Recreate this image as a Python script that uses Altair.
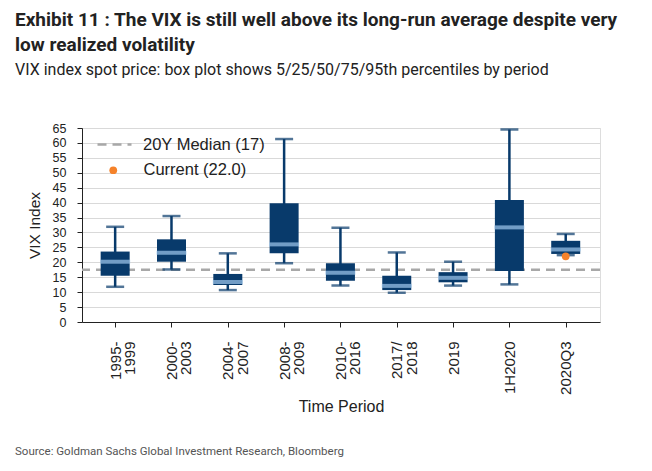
import altair as alt
import pandas as pd

periods = ["1995-\n1999", "2000-\n2003", "2004-\n2007", "2008-\n2009", "2010-\n2016",
           "2017/\n2018", "2019", "1H2020", "2020Q3"]
p5  = [11.8, 17.6, 10.7, 19.7, 12.2,  9.8, 12.2, 12.6, 22.4]
p25 = [15.5, 20.2, 12.4, 23.0, 13.8, 10.7, 13.3, 17.1, 22.8]
p50 = [20.2, 23.2, 13.4, 26.0, 16.5, 12.1, 14.8, 31.7, 24.3]
p75 = [23.6, 27.7, 16.1, 39.8, 19.7, 15.5, 16.7, 40.9, 27.2]
p95 = [31.9, 35.5, 23.0, 61.3, 31.6, 23.3, 20.2, 64.5, 29.5]
median_20y = 17.5
median_label = "20Y Median (17)"
current_val = 22.0
current_label = "Current (22.0)"
source = "Source: Goldman Sachs Global Investment Research, Bloomberg"
title_lines = ["Exhibit 11 : The VIX is still well above its long-run average despite very",
               "low realized volatility"]
subtitle = "VIX index spot price: box plot shows 5/25/50/75/95th percentiles by period"
y_ticks = list(range(0, 66, 5))

NAVY = "#083a6b"
LIGHT = "#a0c8ec"
ORANGE = "#f5822a"
GRAY = "#a8a8a8"
AX_FONT = "Liberation Sans"
COND = "Roboto"

idx = list(range(len(periods)))
df = pd.DataFrame({"idx": idx, "period": periods, "p5": p5, "p25": p25,
                   "p50": p50, "p75": p75, "p95": p95})

arr = "[" + ",".join("'" + p.replace("\n", "|") + "'" for p in periods) + "]"
label_expr = f"split({arr}[datum.value], '|')"

W, H = 518, 194

xscale = alt.Scale(domain=[-0.5, 8.52], nice=False, zero=False)
xaxis = alt.Axis(values=idx, labelExpr=label_expr, labelAngle=-90,
                 labelFontSize=15, labelLineHeight=14.5, labelPadding=14,
                 tickSize=5, grid=False, title="Time Period", titleFontSize=16,
                 titleX=259, titleY=84, titleBaseline="middle")
yscale = alt.Scale(domain=[0, 65], nice=False)
yaxis = alt.Axis(values=y_ticks, labelFontSize=12.5, labelPadding=11, tickSize=5,
                 grid=True, gridColor="#d9d9d9", title="VIX Index",
                 titleFontSize=15.5, titleFontWeight="normal", titlePadding=10)


def X(f):
    return alt.X(f, scale=xscale, axis=xaxis)


def Y(f):
    return alt.Y(f, scale=yscale, axis=yaxis)


base = alt.Chart(df)

whisk = base.mark_rule(color=NAVY, strokeWidth=2.5).encode(x=X("idx:Q"), y=Y("p5:Q"), y2="p95:Q")
cap_lo = base.mark_tick(color=NAVY, orient="horizontal", size=18, thickness=2.5).encode(
    x=X("idx:Q"), y=Y("p5:Q"))
cap_hi = base.mark_tick(color=NAVY, orient="horizontal", size=18, thickness=2.5).encode(
    x=X("idx:Q"), y=Y("p95:Q"))
box = base.mark_bar(color=NAVY, size=29).encode(x=X("idx:Q"), y=Y("p25:Q"), y2="p75:Q")
med = base.mark_tick(color=LIGHT, orient="horizontal", size=30, thickness=4).encode(
    x=X("idx:Q"), y=Y("p50:Q"))

med_df = pd.DataFrame({"v": [median_20y], "label": [median_label]})
med_rule = alt.Chart(med_df).mark_rule(color=GRAY, strokeWidth=2.3).encode(
    y=Y("v:Q"),
    strokeDash=alt.StrokeDash("label:N", scale=alt.Scale(range=[[9, 6]]),
                              legend=alt.Legend(title=None, orient="none", legendX=14, legendY=-2,
                                                symbolType="stroke", symbolSize=1156,
                                                symbolStrokeWidth=2.3, symbolStrokeColor=GRAY,
                                                labelFontSize=16.5, labelFont=AX_FONT,
                                                labelColor="#222", labelOffset=10)))

cur_df = pd.DataFrame({"idx": [8], "v": [current_val], "label": [current_label]})
cur = alt.Chart(cur_df).mark_circle(opacity=1, size=60).encode(
    x=X("idx:Q"), y=Y("v:Q"),
    color=alt.Color("label:N", scale=alt.Scale(range=[ORANGE]),
                    legend=alt.Legend(title=None, orient="none", legendX=23, legendY=34,
                                      symbolType="circle", symbolSize=60, symbolOpacity=1,
                                      labelFontSize=16.5, labelFont=AX_FONT,
                                      labelColor="#222", labelOffset=22)))

src = alt.Chart(pd.DataFrame({"t": [source]})).mark_text(
    align="left", baseline="middle", fontSize=11.5, font=COND, color="#555").encode(
    text="t:N", x=alt.value(-67), y=alt.value(H + 130))

chart = alt.layer(med_rule, whisk, cap_lo, cap_hi, box, med, cur, src).properties(
    width=W, height=H,
    padding={"left": 82, "top": 128, "right": 52, "bottom": 149},
    autosize=alt.AutoSizeParams(type="none"),
    title=alt.TitleParams(text=title_lines, subtitle=subtitle, anchor="start", frame="group",
                          dx=-67, offset=44, font=COND, fontSize=19, fontWeight="bold",
                          lineHeight=25, color="#222", subtitleFont=COND, subtitleFontSize=16,
                          subtitleColor="#222", subtitlePadding=7)
).configure_view(stroke=None).configure(background="white").configure_axis(
    labelFont=AX_FONT, titleFont=AX_FONT, labelColor="#222", titleColor="#222",
    tickColor="#222", domainColor="#222", titleFontWeight="normal"
)

chart.save("out.html", embed_options={"renderer": "svg", "actions": False})
